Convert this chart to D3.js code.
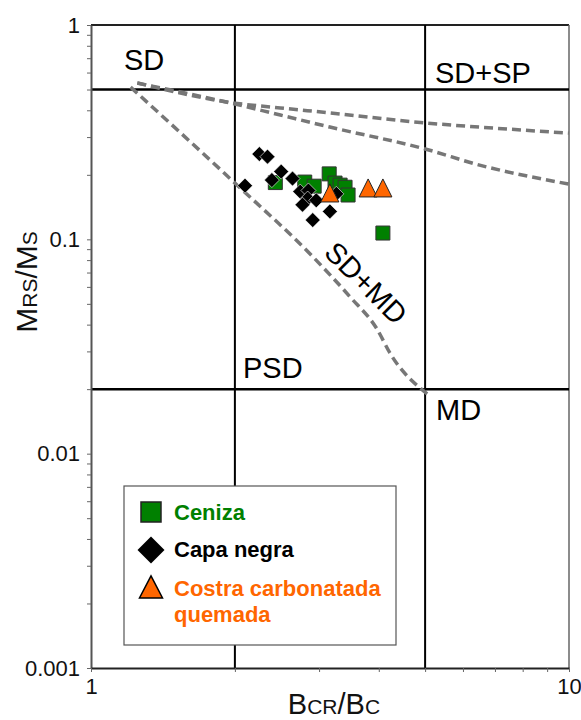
<!DOCTYPE html>
<html>
<head>
<meta charset="utf-8">
<script src="https://cdn.jsdelivr.net/npm/d3@7/dist/d3.min.js"></script>
<style>
  html, body { margin: 0; padding: 0; background: #fff; }
  svg { display: block; font-family: Arial, "Liberation Sans", sans-serif; }
</style>
</head>
<body>
<div id="chart"></div>
<script>
// Day plot: Mrs/Ms versus Bcr/Bc (log-log)

// Samples
const cenizaBcrBc = [2.43, 2.80, 2.93, 3.15, 3.24, 3.32, 3.40, 3.45, 4.08];
const cenizaMrsMs = [0.184, 0.185, 0.177, 0.202, 0.183, 0.179, 0.175, 0.161, 0.107];

const capaBcrBc = [2.25, 2.34, 2.10, 2.50, 2.39, 2.64, 2.74, 2.85, 2.84, 2.77, 2.96, 3.16, 2.91, 3.26];
const capaMrsMs = [0.250, 0.243, 0.178, 0.207, 0.189, 0.192, 0.167, 0.169, 0.155, 0.145, 0.152, 0.135, 0.123, 0.163];

const costraBcrBc = [3.16, 3.80, 4.08];
const costraMrsMs = [0.163, 0.172, 0.172];

// Mixing curves
const sdSp1Bcr = [1.25, 2.0, 2.49, 3.16, 5.0, 6.5, 10];
const sdSp1Mrs = [0.536, 0.432, 0.410, 0.389, 0.349, 0.334, 0.313];
const sdSp2Bcr = [1.25, 2.0, 2.49, 3.16, 5.0, 6.5, 10];
const sdSp2Mrs = [0.536, 0.428, 0.380, 0.334, 0.264, 0.222, 0.181];
const sdMdBcr = [1.21, 2.0, 2.91, 3.48, 3.97, 4.22, 5.05];
const sdMdMrs = [0.513, 0.183, 0.083, 0.054, 0.038, 0.0295, 0.019];

// Domain boundaries
const boundBcr = [2, 5];
const boundMrs = [0.5, 0.02];

// Axis ticks
const xTicks = [1, 2, 3, 4, 5, 6, 7, 8, 9, 10];
const xTickLabels = [1, 10];
const yTicks = [];
[0.001, 0.01, 0.1].forEach(d => { for (let k = 1; k <= 9; k++) yTicks.push(+(d * k).toPrecision(3)); });
yTicks.push(1);
const yTickLabels = [0.001, 0.01, 0.1, 1];

// Legend
const legendNames = ["Ceniza", "Capa negra", "Costra carbonatada"];
const legendColors = ["#008000", "#000000", "#ff6600"];

const W = 581, H = 720;
const L = 91, R = 569, T = 25, B = 668;

const svg = d3.select("#chart").append("svg").attr("width", W).attr("height", H);

const x = d3.scaleLog().domain([1, 10]).range([L, R]);
const y = d3.scaleLog().domain([0.001, 1]).range([B, T]);

// Frame (top and right)
svg.append("line").attr("x1", L).attr("x2", R).attr("y1", T).attr("y2", T)
  .attr("stroke", "#222").attr("stroke-width", 2);
svg.append("line").attr("x1", R).attr("x2", R).attr("y1", T).attr("y2", B)
  .attr("stroke", "#666").attr("stroke-width", 1.5);

// Domain boundaries
svg.selectAll("line.vb").data(boundBcr).join("line").attr("class", "vb")
  .attr("x1", d => x(d)).attr("x2", d => x(d)).attr("y1", T).attr("y2", B)
  .attr("stroke", "#000").attr("stroke-width", 2);
svg.selectAll("line.hb").data(boundMrs).join("line").attr("class", "hb")
  .attr("x1", L).attr("x2", R).attr("y1", d => y(d)).attr("y2", d => y(d))
  .attr("stroke", "#000").attr("stroke-width", 2.5);

// Mixing curves
const curve = d3.line().x(d => x(d[0])).y(d => y(d[1])).curve(d3.curveMonotoneX);
[[sdSp1Bcr, sdSp1Mrs], [sdSp2Bcr, sdSp2Mrs], [sdMdBcr, sdMdMrs]].forEach(([bx, my]) => {
  svg.append("path").datum(bx.map((v, i) => [v, my[i]]))
    .attr("d", curve).attr("fill", "none")
    .attr("stroke", "#777").attr("stroke-width", 3.5).attr("stroke-dasharray", "9,5");
});

// Domain labels
const lab = svg.append("g").attr("font-size", 29).attr("fill", "#000");
lab.append("text").attr("x", 124).attr("y", 70).text("SD");
lab.append("text").attr("x", 435).attr("y", 83).text("SD+SP");
lab.append("text").attr("x", 243).attr("y", 378).text("PSD");
lab.append("text").attr("x", 436).attr("y", 420).text("MD");
lab.append("text").attr("transform", "translate(366,283) rotate(45)")
  .attr("text-anchor", "middle").attr("dominant-baseline", "central").text("SD+MD");

// Marker shapes
const squareSym = s => d3.symbol().type(d3.symbolSquare).size(s * s)();
const diamondSym = h => {
  const p = d3.path();
  p.moveTo(0, -h); p.lineTo(h, 0); p.lineTo(0, h); p.lineTo(-h, 0); p.closePath();
  return p.toString();
};
const triSym = (w, h) => {
  const p = d3.path();
  p.moveTo(0, -h * 0.55); p.lineTo(w / 2, h * 0.45); p.lineTo(-w / 2, h * 0.45); p.closePath();
  return p.toString();
};

// Points
svg.append("g").selectAll("path").data(cenizaBcrBc.map((v, i) => [v, cenizaMrsMs[i]])).join("path")
  .attr("transform", d => `translate(${x(d[0])},${y(d[1])})`)
  .attr("d", squareSym(14)).attr("fill", legendColors[0]).attr("stroke", "#333").attr("stroke-width", 1);
svg.append("g").selectAll("path").data(capaBcrBc.map((v, i) => [v, capaMrsMs[i]])).join("path")
  .attr("transform", d => `translate(${x(d[0])},${y(d[1])})`)
  .attr("d", diamondSym(7.5)).attr("fill", legendColors[1]).attr("stroke", "#fff").attr("stroke-width", 0.6);
svg.append("g").selectAll("path").data(costraBcrBc.map((v, i) => [v, costraMrsMs[i]])).join("path")
  .attr("transform", d => `translate(${x(d[0])},${y(d[1])})`)
  .attr("d", triSym(18, 18)).attr("fill", legendColors[2]).attr("stroke", "#222").attr("stroke-width", 1);

// Legend
const lg = svg.append("g");
lg.append("rect").attr("x", 124).attr("y", 486).attr("width", 272).attr("height", 159)
  .attr("fill", "#fff").attr("stroke", "#555").attr("stroke-width", 1.2);
const symX = 151;
lg.append("path").attr("transform", `translate(${symX},512)`).attr("d", squareSym(20))
  .attr("fill", legendColors[0]).attr("stroke", "#222").attr("stroke-width", 1.5);
lg.append("path").attr("transform", `translate(${symX},550)`).attr("d", diamondSym(13.5))
  .attr("fill", legendColors[1]);
lg.append("path").attr("transform", `translate(${symX},588)`).attr("d", triSym(23, 22))
  .attr("fill", legendColors[2]).attr("stroke", "#000").attr("stroke-width", 1.5);
const lt = lg.append("g").attr("font-size", 22).attr("font-weight", "bold");
lt.append("text").attr("x", 174).attr("y", 520).attr("fill", legendColors[0]).text(legendNames[0]);
lt.append("text").attr("x", 174).attr("y", 557).attr("fill", legendColors[1]).text(legendNames[1]);
const t3 = lt.append("text").attr("fill", legendColors[2]);
t3.append("tspan").attr("x", 174).attr("y", 596).text(legendNames[2]);
t3.append("tspan").attr("x", 174).attr("y", 622).text("quemada");

// Axes
const yAxis = d3.axisLeft(y).tickValues(yTicks).tickSizeInner(4).tickSizeOuter(0).tickPadding(7)
  .tickFormat(d => yTickLabels.includes(d) ? String(d) : "");
const gy = svg.append("g").attr("transform", `translate(${L},0)`).call(yAxis);
gy.select(".domain").attr("stroke", "#555").attr("stroke-width", 2);
gy.selectAll(".tick line").attr("stroke", "#666").attr("stroke-width", 1);
gy.selectAll(".tick text").attr("font-size", 22).attr("fill", "#111")
  .attr("font-family", "Arial, 'Liberation Sans', sans-serif");

const xAxis = d3.axisBottom(x).tickValues(xTicks).tickSizeInner(4).tickSizeOuter(0).tickPadding(6)
  .tickFormat(d => xTickLabels.includes(d) ? String(d) : "");
const gx = svg.append("g").attr("transform", `translate(0,${B})`).call(xAxis);
gx.select(".domain").attr("stroke", "#222").attr("stroke-width", 2);
gx.selectAll(".tick line").attr("stroke", "#666").attr("stroke-width", 1);
gx.selectAll(".tick text").attr("font-size", 22).attr("fill", "#111")
  .attr("font-family", "Arial, 'Liberation Sans', sans-serif");

// Axis titles
const xt = svg.append("text").attr("x", 334).attr("y", 714).attr("text-anchor", "middle").attr("fill", "#111");
xt.append("tspan").attr("font-size", 29).text("B");
xt.append("tspan").attr("font-size", 21).text("CR");
xt.append("tspan").attr("font-size", 29).text("/B");
xt.append("tspan").attr("font-size", 21).text("C");

const yt = svg.append("text").attr("transform", "translate(37,282) rotate(-90)")
  .attr("text-anchor", "middle").attr("fill", "#111");
yt.append("tspan").attr("font-size", 30).text("M");
yt.append("tspan").attr("font-size", 21).text("RS");
yt.append("tspan").attr("font-size", 30).text("/M");
yt.append("tspan").attr("font-size", 21).text("S");
</script>
</body>
</html>
